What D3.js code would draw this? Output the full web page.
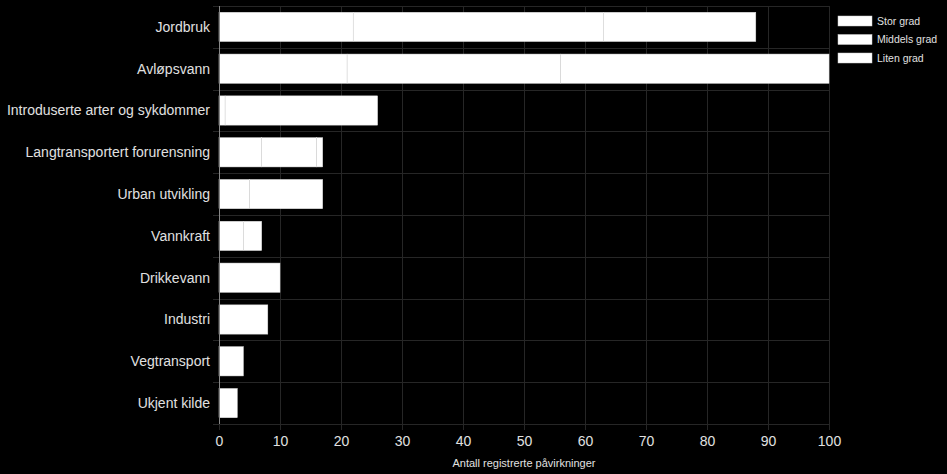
<!DOCTYPE html>
<html><head><meta charset="utf-8">
<script src="https://cdn.jsdelivr.net/npm/d3@7"></script>
<style>html,body{margin:0;padding:0;background:#000;}svg{display:block;}</style>
</head><body>
<svg id="c" width="947" height="474"></svg>
<script>
const categories = ["Jordbruk","Avløpsvann","Introduserte arter og sykdommer","Langtransportert forurensning","Urban utvikling","Vannkraft","Drikkevann","Industri","Vegtransport","Ukjent kilde"];
const seriesNames = ["Stor grad","Middels grad","Liten grad"];
const storGrad    = [22, 21, 1, 7, 5, 4, 0, 0, 0, 0];
const middelsGrad = [41, 35, 25, 9, 12, 3, 10, 8, 4, 3];
const litenGrad   = [25, 44, 0, 1, 0, 0, 0, 0, 0, 0];
const xTicks = [0,10,20,30,40,50,60,70,80,90,100];
const xTitle = "Antall registrerte påvirkninger";

const svg = d3.select("#c");
const m = {l:219, r:829, t:6, b:424};
const x = d3.scaleLinear().domain([0,100]).range([m.l, m.r]);
const y = d3.scaleBand().domain(categories).range([m.t, m.b]).paddingInner(0.3).paddingOuter(0.15);
const font = "'Liberation Sans', Arial, sans-serif";

// grid
const g = svg.append("g");
g.selectAll("line.v").data(xTicks).join("line")
  .attr("x1", d=>x(d)+0.5).attr("x2", d=>x(d)+0.5).attr("y1", m.t).attr("y2", m.b)
  .attr("stroke", "#262626").attr("stroke-width", 1);
const step = (m.b - m.t)/categories.length;
const bounds = d3.range(categories.length+1).map(i => m.t + i*step);
g.selectAll("line.h").data(bounds).join("line")
  .attr("x1", m.l-6).attr("x2", m.r).attr("y1", d=>Math.round(d)+0.5).attr("y2", d=>Math.round(d)+0.5)
  .attr("stroke", "#262626").attr("stroke-width", 1);

// bars
const data = categories.map((c,i)=>({cat:c, vals:[storGrad[i], middelsGrad[i], litenGrad[i]]}));
const stack = d3.stack().keys([0,1,2]).value((d,k)=>d.vals[k]);
const layers = stack(data);
layers.forEach(layer=>{
  svg.append("g").selectAll("rect").data(layer.filter(d=>d[1]-d[0]>0)).join("rect")
    .attr("x", d=>x(d[0])).attr("width", d=>x(d[1])-x(d[0]))
    .attr("y", d=>y(d.data.cat)).attr("height", y.bandwidth())
    .attr("fill", "#ffffff").attr("stroke", "#dedede").attr("stroke-width", 0.5);
});

// y axis
svg.append("line").attr("x1", m.l+0.5).attr("x2", m.l+0.5).attr("y1", m.t).attr("y2", m.b)
  .attr("stroke", "#888").attr("stroke-width", 1);
svg.append("g").selectAll("text").data(categories).join("text")
  .attr("x", 210).attr("y", d=>y(d)+y.bandwidth()/2).attr("dy", "0.35em")
  .attr("text-anchor", "end").attr("fill", "#e0e0e0")
  .style("font-family", font).style("font-size", "14px").text(d=>d);

// x axis
const xa = svg.append("g").attr("transform", `translate(0,${m.b})`)
  .call(d3.axisBottom(x).tickValues(xTicks).tickSize(6).tickFormat(d3.format("d")));
xa.select(".domain").attr("stroke", "#262626");
xa.selectAll(".tick line").attr("stroke", "#262626");
xa.selectAll(".tick text").attr("fill", "#e0e0e0").attr("dy", "0.9em")
  .style("font-family", font).style("font-size", "14px");
svg.append("text").attr("x", (m.l+m.r)/2).attr("y", 467).attr("text-anchor", "middle")
  .attr("fill", "#e0e0e0").style("font-family", font).style("font-size", "11px").text(xTitle);

// legend
const lg = svg.append("g").selectAll("g").data(seriesNames).join("g")
  .attr("transform", (d,i)=>`translate(838,${16+i*18.5})`);
lg.append("rect").attr("width", 34).attr("height", 10).attr("fill", "#fff").attr("stroke", "#ccc").attr("stroke-width", 0.5);
lg.append("text").attr("x", 39).attr("y", 5).attr("dy", "0.35em").attr("fill", "#e0e0e0")
  .style("font-family", font).style("font-size", "10.5px").text(d=>d);
</script>
</body></html>
